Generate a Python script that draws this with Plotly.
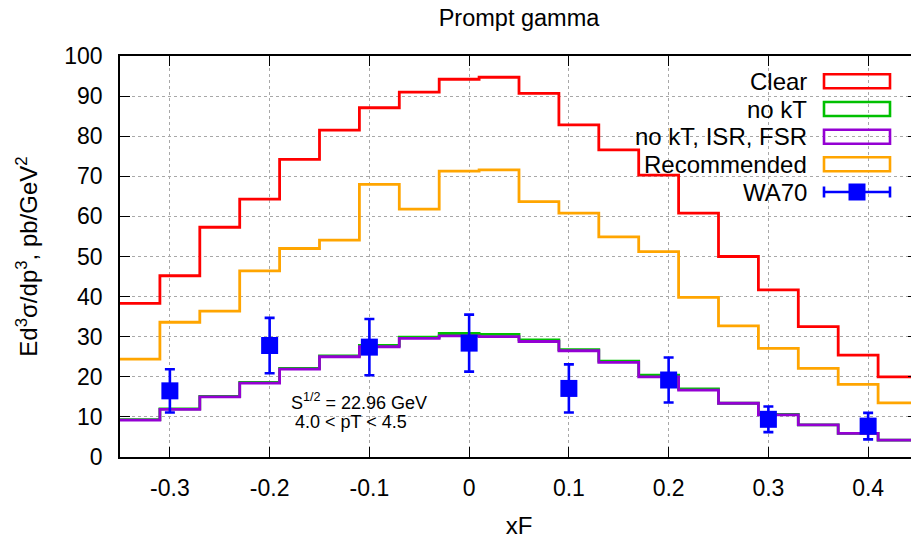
import plotly.graph_objects as go

# ---------------- data ----------------
bin_edges = [round(-0.35 + 0.04 * k, 2) for k in range(21)]
clear = [38.3, 45.2, 57.3, 64.3, 74.2, 81.5, 87.1, 91.0, 94.2, 94.7,
         90.7, 82.8, 76.6, 70.3, 60.8, 50.0, 41.7, 32.5, 25.4, 20.0]
no_kt = [9.3, 12.0, 15.1, 18.6, 22.1, 25.2, 27.8, 29.9, 30.8, 30.6,
         29.2, 26.8, 23.9, 20.4, 17.0, 13.4, 10.6, 8.0, 5.9, 4.2]
no_kt_isr_fsr = [9.2, 11.9, 15.0, 18.4, 21.9, 25.0, 27.5, 29.6, 30.2, 30.0,
                 28.8, 26.5, 23.6, 20.0, 16.7, 13.4, 10.5, 8.0, 5.9, 4.2]
recommended = [24.4, 33.6, 36.4, 46.4, 52.0, 54.1, 68.0, 61.8, 71.3, 71.6,
               63.7, 60.8, 54.9, 51.2, 39.8, 32.7, 27.1, 22.1, 18.1, 13.5]
wa70_x = [-0.3, -0.2, -0.1, 0.0, 0.1, 0.2, 0.3, 0.4]
wa70_y = [16.5, 27.8, 27.4, 28.4, 17.1, 19.2, 9.4, 7.7]
wa70_err = [5.4, 6.9, 7.0, 7.1, 6.0, 5.6, 3.2, 3.3]
x_ticks = [-0.3, -0.2, -0.1, 0.0, 0.1, 0.2, 0.3, 0.4]
x_tick_labels = ["-0.3", "-0.2", "-0.1", "0", "0.1", "0.2", "0.3", "0.4"]
y_ticks = list(range(0, 101, 10))

series = [
    ("Clear", clear, "#ff0000"),
    ("no kT", no_kt, "#00c000"),
    ("no kT, ISR, FSR", no_kt_isr_fsr, "#9400d3"),
    ("Recommended", recommended, "#ffa500"),
]

FONT = "Liberation Sans, Arial, sans-serif"
fig = go.Figure()

for name, vals, col in series:
    fig.add_trace(go.Scatter(
        x=bin_edges, y=vals + [vals[-1]], mode="lines", line_shape="hv",
        line=dict(color=col, width=2.8), name=name, showlegend=False))

fig.add_trace(go.Scatter(
    x=wa70_x, y=wa70_y, mode="markers", name="WA70", showlegend=False,
    marker=dict(symbol="square", size=17, color="#0000ff"),
    error_y=dict(type="data", array=wa70_err, color="#0000ff", thickness=2.6, width=5)))

# page-pixel -> plot-area fraction (plot area: x 120..918, y 56..457)
PX0, PX1, PY0, PY1 = 120.0, 918.0, 56.0, 457.0
def fx(x): return (x - PX0) / (PX1 - PX0)
def fy(y): return (PY1 - y) / (PY1 - PY0)

# ---------- custom legend (gnuplot style, right aligned) ----------
rows = [81.2, 109.0, 136.7, 164.3, 192.0]
for i, (name, vals, col) in enumerate(series):
    y = rows[i]
    fig.add_annotation(xref="paper", yref="paper", x=fx(809), y=fy(y), text=name,
                       showarrow=False, xanchor="right", yanchor="middle",
                       font=dict(family=FONT, size=24, color="black"))
    fig.add_shape(type="rect", xref="paper", yref="paper",
                  x0=fx(824), x1=fx(890), y0=fy(y - 7), y1=fy(y + 7),
                  line=dict(color=col, width=2.6), fillcolor="rgba(0,0,0,0)")
y = rows[4]
fig.add_annotation(xref="paper", yref="paper", x=fx(809), y=fy(y), text="WA70",
                   showarrow=False, xanchor="right", yanchor="middle",
                   font=dict(family=FONT, size=24, color="black"))
fig.add_shape(type="line", xref="paper", yref="paper", x0=fx(824), x1=fx(890),
              y0=fy(y), y1=fy(y), line=dict(color="#0000ff", width=2.6))
for xx in (824, 890):
    fig.add_shape(type="line", xref="paper", yref="paper", x0=fx(xx), x1=fx(xx),
                  y0=fy(y - 5.5), y1=fy(y + 5.5), line=dict(color="#0000ff", width=2.6))
fig.add_shape(type="rect", xref="paper", yref="paper", x0=fx(848.5), x1=fx(865.5),
              y0=fy(y - 8.5), y1=fy(y + 8.5), line=dict(color="#0000ff", width=0),
              fillcolor="#0000ff")

# ---------- text label inside plot ----------
fig.add_annotation(xref="paper", yref="paper", x=fx(289), y=fy(401), xanchor="left",
                   yanchor="middle", showarrow=False,
                   text="S<sup>1/2</sup> = 22.96 GeV",
                   font=dict(family=FONT, size=18, color="black"))
fig.add_annotation(xref="paper", yref="paper", x=fx(293), y=fy(422), xanchor="left",
                   yanchor="middle", showarrow=False,
                   text="4.0 &lt; pT &lt; 4.5",
                   font=dict(family=FONT, size=18, color="black"))

axis_common = dict(
    showline=True, linecolor="black", linewidth=1.5, mirror="allticks",
    ticks="inside", ticklen=10, tickwidth=1.3, tickcolor="black",
    showgrid=True, gridcolor="#a8a8a8", griddash="dot", gridwidth=1,
    zeroline=False, automargin=False,
    tickfont=dict(family=FONT, size=23, color="black"),
)

# the page body has an 8px margin: figure is offset by 8px, so shrink accordingly
W, H = 911, 536
fig.update_layout(
    width=W, height=H,
    margin=dict(l=112, r=1, t=48, b=87),
    paper_bgcolor="white", plot_bgcolor="white",
    showlegend=False,
    title=dict(text="Prompt gamma", x=(519 - 8) / W, xanchor="center",
               y=1 - (18 - 8) / H, yanchor="middle",
               font=dict(family=FONT, size=23.5, color="black")),
    xaxis=dict(range=[-0.35, 0.45], tickvals=x_ticks, ticktext=x_tick_labels,
               ticklabelstandoff=10,
               title=dict(text="xF", font=dict(family=FONT, size=24, color="black"), standoff=17),
               **axis_common),
    yaxis=dict(range=[0, 100], tickvals=y_ticks, ticklabelstandoff=11,
               title=dict(text="Ed<sup>3</sup>σ/dp<sup>3</sup>, pb/GeV<sup>2</sup>",
                          font=dict(family=FONT, size=24, color="black"), standoff=20),
               **axis_common),
)

fig.write_html("out.html")
